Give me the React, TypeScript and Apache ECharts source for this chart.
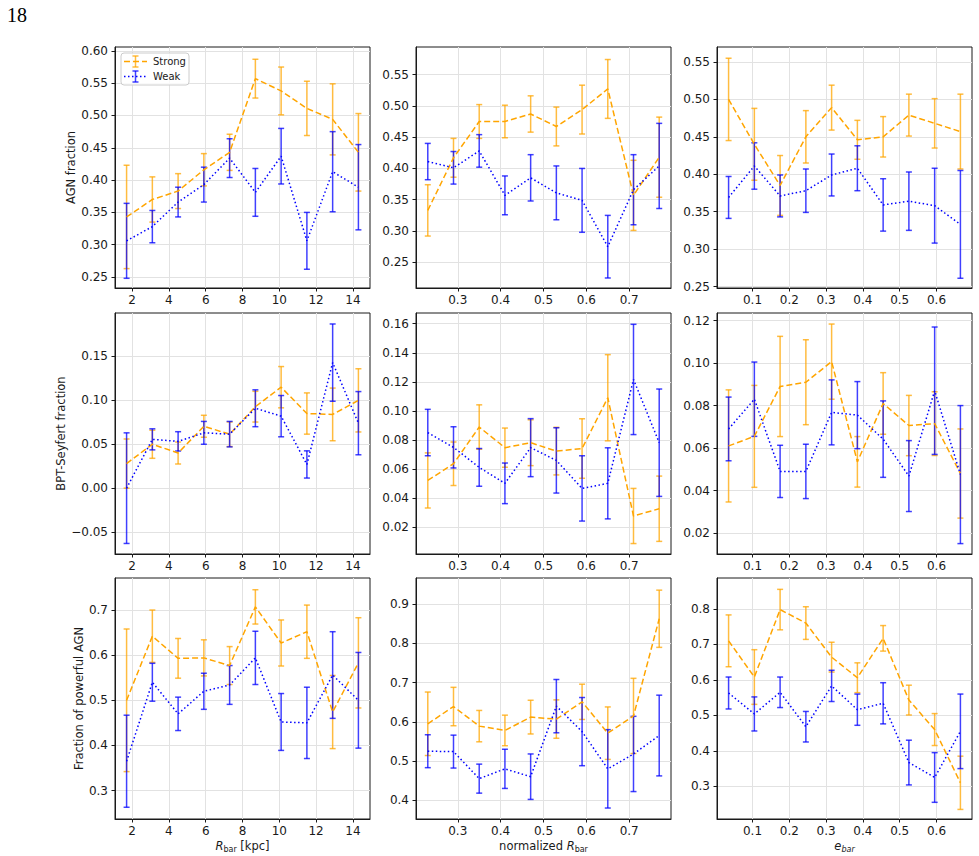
import { useEffect, useRef } from "react";
import * as echarts from "echarts";

// Bin centres of the three bar parameters
const RBAR_KPC = [1.7, 3.1, 4.5, 5.9, 7.3, 8.7, 10.1, 11.5, 12.9, 14.3];
const RBAR_NORM = [0.23, 0.29, 0.35, 0.41, 0.47, 0.53, 0.59, 0.65, 0.71, 0.77];
const E_BAR = [0.035, 0.105, 0.175, 0.245, 0.315, 0.385, 0.455, 0.525, 0.595, 0.665];

// Tick labels
const TICKS_KPC = [2, 4, 6, 8, 10, 12, 14];
const TICKS_NORM = [0.3, 0.4, 0.5, 0.6, 0.7];
const TICKS_EBAR = [0.1, 0.2, 0.3, 0.4, 0.5, 0.6];
const TICKS_AGN_KPC = [0.25, 0.3, 0.35, 0.4, 0.45, 0.5, 0.55, 0.6];
const TICKS_AGN = [0.25, 0.3, 0.35, 0.4, 0.45, 0.5, 0.55];
const TICKS_BPT_KPC = [-0.05, 0, 0.05, 0.1, 0.15];
const TICKS_BPT_NORM = [0.02, 0.04, 0.06, 0.08, 0.1, 0.12, 0.14, 0.16];
const TICKS_BPT_EBAR = [0.02, 0.04, 0.06, 0.08, 0.1, 0.12];
const TICKS_POW_KPC = [0.3, 0.4, 0.5, 0.6, 0.7];
const TICKS_POW_NORM = [0.4, 0.5, 0.6, 0.7, 0.8, 0.9];
const TICKS_POW_EBAR = [0.3, 0.4, 0.5, 0.6, 0.7, 0.8];

// AGN fraction
const AGN_KPC_STRONG = [0.343, 0.37, 0.383, 0.416, 0.443, 0.557, 0.538, 0.511, 0.494, 0.443];
const AGN_KPC_STRONG_ERR = [0.08, 0.035, 0.027, 0.025, 0.028, 0.03, 0.037, 0.042, 0.055, 0.06];
const AGN_KPC_WEAK = [0.306, 0.328, 0.366, 0.393, 0.434, 0.381, 0.437, 0.306, 0.413, 0.389];
const AGN_KPC_WEAK_ERR = [0.058, 0.025, 0.023, 0.027, 0.03, 0.037, 0.043, 0.044, 0.062, 0.066];

const AGN_NORM_STRONG = [0.333, 0.417, 0.475, 0.475, 0.487, 0.467, 0.494, 0.527, 0.357, 0.418];
const AGN_NORM_STRONG_ERR = [0.041, 0.031, 0.027, 0.026, 0.029, 0.031, 0.039, 0.047, 0.056, 0.064];
const AGN_NORM_WEAK = [0.411, 0.401, 0.428, 0.357, 0.385, 0.361, 0.349, 0.275, 0.366, 0.404];
const AGN_NORM_WEAK_ERR = [0.029, 0.026, 0.026, 0.031, 0.037, 0.043, 0.051, 0.05, 0.056, 0.068];

const AGN_EBAR_STRONG = [0.5, 0.44, 0.385, 0.45, 0.489, 0.446, 0.45, 0.479, 0.468, 0.457];
const AGN_EBAR_STRONG_ERR = [0.055, 0.048, 0.04, 0.035, 0.03, 0.026, 0.027, 0.028, 0.033, 0.05];
const AGN_EBAR_WEAK = [0.369, 0.411, 0.371, 0.378, 0.399, 0.408, 0.359, 0.364, 0.358, 0.333];
const AGN_EBAR_WEAK_ERR = [0.028, 0.031, 0.028, 0.029, 0.028, 0.03, 0.035, 0.039, 0.05, 0.072];

// BPT-Seyfert fraction
const BPT_KPC_STRONG = [0.028, 0.05, 0.04, 0.0705, 0.0614, 0.0928, 0.115, 0.085, 0.084, 0.1];
const BPT_KPC_STRONG_ERR = [0.028, 0.016, 0.0125, 0.0125, 0.014, 0.0175, 0.0235, 0.0235, 0.03, 0.036];
const BPT_KPC_WEAK = [0.0, 0.0556, 0.0533, 0.063, 0.0615, 0.091, 0.082, 0.027, 0.143, 0.074];
const BPT_KPC_WEAK_ERR = [0.063, 0.012, 0.011, 0.013, 0.0145, 0.021, 0.0235, 0.0155, 0.044, 0.036];

const BPT_NORM_STRONG = [0.052, 0.0635, 0.0888, 0.0746, 0.078, 0.0722, 0.074, 0.109, 0.0275, 0.0325];
const BPT_NORM_STRONG_ERR = [0.019, 0.015, 0.0153, 0.0135, 0.0158, 0.0164, 0.0205, 0.0297, 0.019, 0.0225];
const BPT_NORM_WEAK = [0.085, 0.0748, 0.061, 0.05, 0.0746, 0.0658, 0.0465, 0.05, 0.1216, 0.078];
const BPT_NORM_WEAK_ERR = [0.016, 0.0142, 0.013, 0.014, 0.02, 0.0225, 0.0225, 0.0245, 0.038, 0.037];

const BPT_EBAR_STRONG = [0.061, 0.0655, 0.089, 0.091, 0.1007, 0.0535, 0.081, 0.0706, 0.0715, 0.048];
const BPT_EBAR_STRONG_ERR = [0.0264, 0.024, 0.0236, 0.02, 0.0177, 0.0119, 0.0145, 0.0142, 0.015, 0.021];
const BPT_EBAR_WEAK = [0.069, 0.083, 0.049, 0.049, 0.0768, 0.0755, 0.0642, 0.0468, 0.087, 0.0475];
const BPT_EBAR_WEAK_ERR = [0.015, 0.0175, 0.0123, 0.0128, 0.0153, 0.0158, 0.018, 0.0167, 0.03, 0.0325];

// Fraction of powerful AGN
const POW_KPC_STRONG = [0.5, 0.642, 0.593, 0.594, 0.577, 0.707, 0.627, 0.652, 0.474, 0.583];
const POW_KPC_STRONG_ERR = [0.158, 0.058, 0.044, 0.04, 0.042, 0.038, 0.051, 0.059, 0.081, 0.1];
const POW_KPC_WEAK = [0.365, 0.54, 0.47, 0.52, 0.534, 0.594, 0.452, 0.45, 0.556, 0.5];
const POW_KPC_WEAK_ERR = [0.102, 0.042, 0.037, 0.04, 0.043, 0.059, 0.063, 0.079, 0.096, 0.106];

const POW_NORM_STRONG = [0.595, 0.639, 0.589, 0.578, 0.612, 0.607, 0.651, 0.571, 0.615, 0.863];
const POW_NORM_STRONG_ERR = [0.081, 0.049, 0.04, 0.039, 0.043, 0.049, 0.045, 0.067, 0.096, 0.073];
const POW_NORM_WEAK = [0.525, 0.524, 0.455, 0.48, 0.46, 0.64, 0.575, 0.48, 0.518, 0.565];
const POW_NORM_WEAK_ERR = [0.042, 0.042, 0.037, 0.05, 0.058, 0.068, 0.087, 0.1, 0.096, 0.103];

const POW_EBAR_STRONG = [0.71, 0.608, 0.798, 0.76, 0.664, 0.606, 0.717, 0.543, 0.46, 0.31];
const POW_EBAR_STRONG_ERR = [0.073, 0.077, 0.057, 0.046, 0.042, 0.042, 0.036, 0.042, 0.045, 0.075];
const POW_EBAR_WEAK = [0.563, 0.504, 0.565, 0.468, 0.583, 0.516, 0.534, 0.367, 0.325, 0.455];
const POW_EBAR_WEAK_ERR = [0.045, 0.048, 0.043, 0.043, 0.044, 0.044, 0.058, 0.063, 0.07, 0.105];

const STRONG_COLOR = "#ffa500";
const WEAK_COLOR = "#0000ff";
const FONT = "'DejaVu Sans', sans-serif";
const INK = "#1a1a1a";

const COL_LEFT = [115, 416, 717];
const ROW_TOP = [47, 313, 578];
const CELL_W = 255;
const CELL_H = 241;

type Panel = {
  row: number;
  col: number;
  xs: number[];
  xRange: [number, number];
  xTicks: number[];
  xDigits: number;
  yRange: [number, number];
  yTicks: number[];
  yDigits: number;
  strong: number[];
  strongErr: number[];
  weak: number[];
  weakErr: number[];
};

const X_COLS = [
  { xs: RBAR_KPC, xRange: [1.07, 14.93] as [number, number], xTicks: TICKS_KPC, xDigits: 0 },
  { xs: RBAR_NORM, xRange: [0.2025, 0.7975] as [number, number], xTicks: TICKS_NORM, xDigits: 1 },
  { xs: E_BAR, xRange: [0.0035, 0.6965] as [number, number], xTicks: TICKS_EBAR, xDigits: 1 },
];

const PANELS: Panel[] = [
  { row: 0, col: 0, ...X_COLS[0], yRange: [0.233, 0.606], yTicks: TICKS_AGN_KPC, yDigits: 2,
    strong: AGN_KPC_STRONG, strongErr: AGN_KPC_STRONG_ERR, weak: AGN_KPC_WEAK, weakErr: AGN_KPC_WEAK_ERR },
  { row: 0, col: 1, ...X_COLS[1], yRange: [0.209, 0.594], yTicks: TICKS_AGN, yDigits: 2,
    strong: AGN_NORM_STRONG, strongErr: AGN_NORM_STRONG_ERR, weak: AGN_NORM_WEAK, weakErr: AGN_NORM_WEAK_ERR },
  { row: 0, col: 2, ...X_COLS[2], yRange: [0.248, 0.57], yTicks: TICKS_AGN, yDigits: 2,
    strong: AGN_EBAR_STRONG, strongErr: AGN_EBAR_STRONG_ERR, weak: AGN_EBAR_WEAK, weakErr: AGN_EBAR_WEAK_ERR },
  { row: 1, col: 0, ...X_COLS[0], yRange: [-0.075, 0.1995], yTicks: TICKS_BPT_KPC, yDigits: 2,
    strong: BPT_KPC_STRONG, strongErr: BPT_KPC_STRONG_ERR, weak: BPT_KPC_WEAK, weakErr: BPT_KPC_WEAK_ERR },
  { row: 1, col: 1, ...X_COLS[1], yRange: [0.0013, 0.1674], yTicks: TICKS_BPT_NORM, yDigits: 2,
    strong: BPT_NORM_STRONG, strongErr: BPT_NORM_STRONG_ERR, weak: BPT_NORM_WEAK, weakErr: BPT_NORM_WEAK_ERR },
  { row: 1, col: 2, ...X_COLS[2], yRange: [0.0101, 0.1236], yTicks: TICKS_BPT_EBAR, yDigits: 2,
    strong: BPT_EBAR_STRONG, strongErr: BPT_EBAR_STRONG_ERR, weak: BPT_EBAR_WEAK, weakErr: BPT_EBAR_WEAK_ERR },
  { row: 2, col: 0, ...X_COLS[0], yRange: [0.237, 0.771], yTicks: TICKS_POW_KPC, yDigits: 1,
    strong: POW_KPC_STRONG, strongErr: POW_KPC_STRONG_ERR, weak: POW_KPC_WEAK, weakErr: POW_KPC_WEAK_ERR },
  { row: 2, col: 1, ...X_COLS[1], yRange: [0.352, 0.967], yTicks: TICKS_POW_NORM, yDigits: 1,
    strong: POW_NORM_STRONG, strongErr: POW_NORM_STRONG_ERR, weak: POW_NORM_WEAK, weakErr: POW_NORM_WEAK_ERR },
  { row: 2, col: 2, ...X_COLS[2], yRange: [0.208, 0.887], yTicks: TICKS_POW_EBAR, yDigits: 1,
    strong: POW_EBAR_STRONG, strongErr: POW_EBAR_STRONG_ERR, weak: POW_EBAR_WEAK, weakErr: POW_EBAR_WEAK_ERR },
];

const Y_NAMES = ["AGN fraction", "BPT-Seyfert fraction", "Fraction of powerful AGN"];
const Y_NAME_GAPS = [31, 41, 25];
const X_NAMES = ["{i|R}{s|bar} [kpc]", "normalized {i|R}{s|bar}", "{i|e}{si|bar}"];

function fmt(v: number, digits: number): string {
  const s = Math.abs(v).toFixed(digits);
  return v < -1e-12 ? "\u2212" + s : s;
}

function errorBarRenderer(color: string) {
  return (_params: any, api: any) => {
    const x = api.value(0);
    const y = api.value(1);
    const e = api.value(2);
    const top = api.coord([x, y + e]);
    const bot = api.coord([x, y - e]);
    const cap = 3;
    const style = { stroke: color, lineWidth: 1.5, opacity: 0.75 };
    return {
      type: "group",
      children: [
        { type: "line", shape: { x1: top[0], y1: top[1], x2: bot[0], y2: bot[1] }, style },
        { type: "line", shape: { x1: top[0] - cap, y1: top[1], x2: top[0] + cap, y2: top[1] }, style },
        { type: "line", shape: { x1: bot[0] - cap, y1: bot[1], x2: bot[0] + cap, y2: bot[1] }, style },
      ],
    };
  };
}

function buildOption() {
  const grid: any[] = [];
  const xAxis: any[] = [];
  const yAxis: any[] = [];
  const series: any[] = [];

  PANELS.forEach((p, i) => {
    grid.push({
      left: COL_LEFT[p.col],
      top: ROW_TOP[p.row],
      width: CELL_W,
      height: CELL_H,
      show: true,
      borderColor: INK,
      borderWidth: 1,
      backgroundColor: "transparent",
    });

    const isBottom = p.row === 2;
    xAxis.push({
      type: "value",
      gridIndex: i,
      min: p.xRange[0],
      max: p.xRange[1],
      axisLine: { show: true, onZero: false, lineStyle: { color: INK, width: 1 } },
      axisTick: { show: true, length: 3.5, customValues: p.xTicks, lineStyle: { color: INK } },
      axisLabel: {
        customValues: p.xTicks,
        formatter: (v: number) => fmt(v, p.xDigits),
        color: INK,
        fontSize: 12,
        fontFamily: FONT,
        margin: 6,
      },
      splitLine: { show: true, lineStyle: { color: "#e2e2e2", width: 1 } },
      name: isBottom ? X_NAMES[p.col] : "",
      nameLocation: "middle",
      nameGap: 16,
      nameTextStyle: {
        color: INK,
        fontSize: 11.5,
        fontFamily: FONT,
        lineHeight: 16,
        rich: {
          i: { fontStyle: "italic", fontSize: 11.5, fontFamily: FONT, color: INK, lineHeight: 16 },
          s: { fontSize: 8, fontFamily: FONT, color: INK, lineHeight: 8, verticalAlign: "bottom" },
          si: { fontSize: 8, fontStyle: "italic", fontFamily: FONT, color: INK, lineHeight: 8, verticalAlign: "bottom" },
        },
      },
    });

    yAxis.push({
      type: "value",
      gridIndex: i,
      min: p.yRange[0],
      max: p.yRange[1],
      axisLine: { show: true, onZero: false, lineStyle: { color: INK, width: 1 } },
      axisTick: { show: true, length: 3.5, customValues: p.yTicks, lineStyle: { color: INK } },
      axisLabel: {
        customValues: p.yTicks,
        formatter: (v: number) => fmt(v, p.yDigits),
        color: INK,
        fontSize: 12,
        fontFamily: FONT,
        margin: 7,
      },
      splitLine: { show: true, lineStyle: { color: "#e2e2e2", width: 1 } },
      name: p.col === 0 ? Y_NAMES[p.row] : "",
      nameLocation: "middle",
      nameRotate: 90,
      nameGap: Y_NAME_GAPS[p.row],
      nameTextStyle: { color: INK, fontSize: 11.5, fontFamily: FONT },
    });

    const groups = [
      { name: "Strong", vals: p.strong, errs: p.strongErr, color: STRONG_COLOR, dash: [6, 3] },
      { name: "Weak", vals: p.weak, errs: p.weakErr, color: WEAK_COLOR, dash: [1.5, 2.5] },
    ];
    groups.forEach((g) => {
      series.push({
        type: "line",
        name: g.name,
        xAxisIndex: i,
        yAxisIndex: i,
        data: p.xs.map((x, k) => [x, g.vals[k]]),
        symbol: "none",
        silent: true,
        lineStyle: { color: g.color, width: 1.5, type: g.dash },
        z: 2,
      });
      series.push({
        type: "custom",
        name: g.name,
        xAxisIndex: i,
        yAxisIndex: i,
        data: p.xs.map((x, k) => [x, g.vals[k], g.errs[k]]),
        encode: { x: 0, y: 1 },
        renderItem: errorBarRenderer(g.color),
        silent: true,
        z: 2,
      });
    });
  });

  // Legend box drawn in the first panel, each element above the box frame
  const lx0 = 124;
  const lx1 = 147;
  const lcx = 135.5;
  const legendItem = (y: number, color: string, dash: number[], label: string) => {
    const bar = { stroke: color, lineWidth: 1.5, opacity: 0.75 };
    return [
      { type: "line", z: 101, shape: { x1: lx0, y1: y, x2: lx1, y2: y }, style: { stroke: color, lineWidth: 1.5, lineDash: dash } },
      { type: "line", z: 102, shape: { x1: lcx, y1: y - 5.5, x2: lcx, y2: y + 5.5 }, style: bar },
      { type: "line", z: 102, shape: { x1: lcx - 3, y1: y - 5.5, x2: lcx + 3, y2: y - 5.5 }, style: bar },
      { type: "line", z: 102, shape: { x1: lcx - 3, y1: y + 5.5, x2: lcx + 3, y2: y + 5.5 }, style: bar },
      {
        type: "text",
        z: 102,
        x: 153,
        y,
        style: { text: label, fill: INK, font: `10px ${FONT}`, verticalAlign: "middle" },
      },
    ];
  };

  const graphic: any[] = [
    {
      type: "text",
      x: 7,
      y: 5,
      style: { text: "18", fill: "#000", font: "20px 'Liberation Serif', 'DejaVu Serif', serif" },
    },
    {
      type: "rect",
      z: 100,
      shape: { x: 121, y: 53, width: 68, height: 32, r: 3 },
      style: { fill: "rgba(255,255,255,0.8)", stroke: "#cccccc", lineWidth: 1 },
    },
    ...legendItem(61.5, STRONG_COLOR, [6, 3], "Strong"),
    ...legendItem(76.5, WEAK_COLOR, [1.5, 2.5], "Weak"),
  ];

  return {
    animation: false,
    backgroundColor: "#ffffff",
    textStyle: { fontFamily: FONT },
    grid,
    xAxis,
    yAxis,
    series,
    graphic,
  };
}

export default function App() {
  const ref = useRef<HTMLDivElement>(null);

  useEffect(() => {
    document.body.style.margin = "0";
    if (!ref.current) return;
    const chart = echarts.init(ref.current, undefined, { renderer: "svg" });
    chart.setOption(buildOption() as any);
    return () => chart.dispose();
  }, []);

  return <div ref={ref} style={{ width: 979, height: 856 }} />;
}
